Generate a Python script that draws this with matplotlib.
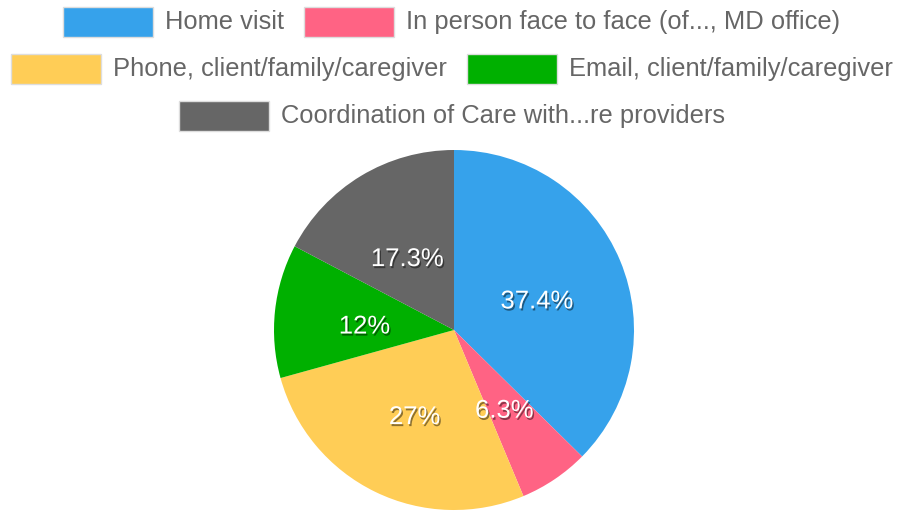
import matplotlib
matplotlib.use('Agg')
import matplotlib.pyplot as plt
import matplotlib.patheffects as pe
from matplotlib.patches import Rectangle
import numpy as np

labels = ["Home visit",
          "In person face to face (of..., MD office)",
          "Phone, client/family/caregiver",
          "Email, client/family/caregiver",
          "Coordination of Care with...re providers"]
values = [37.4, 6.3, 27, 12, 17.3]
pct_text = ["37.4%", "6.3%", "27%", "12%", "17.3%"]
colors = ["#36a2eb", "#ff6384", "#ffcd56", "#00b000", "#666666"]
legend_rows = [[0, 1], [2, 3], [4]]

W, H = 898, 513
plt.rcParams['font.family'] = ['Liberation Sans', 'DejaVu Sans']
fig = plt.figure(figsize=(W / 100, H / 100), dpi=100)

# pie axes: centre (454, 330) px, radius 180 px
cx, cy, r = 454, 330, 180
ax = fig.add_axes([(cx - r) / W, (H - cy - r) / H, 2 * r / W, 2 * r / H])
wedges, _ = ax.pie(values, colors=colors, startangle=90, counterclock=False,
                   radius=1, wedgeprops=dict(linewidth=0))
ax.set_xlim(-1, 1)
ax.set_ylim(-1, 1)
ax.axis('off')

total = sum(values)
start = 90.0
for v, t in zip(values, pct_text):
    mid = np.deg2rad(start - v / total * 180)
    start -= v / total * 360
    ax.text(0.5 * np.cos(mid), 0.5 * np.sin(mid) - 0.02, t, ha='center',
            va='center_baseline', color='white', fontsize=18.5,
            path_effects=[pe.withSimplePatchShadow(offset=(1, -1.5),
                                                   shadow_rgbFace='black',
                                                   alpha=0.45)])

# legend drawn by hand, each row centred
fig.canvas.draw()
renderer = fig.canvas.get_renderer()
box_w, box_h, gap_txt, gap_item = 90, 30, 12, 20
row_y = [22, 69, 116]
for row, yc in zip(legend_rows, row_y):
    texts = []
    for i in row:
        t = fig.text(0, 0, labels[i], fontsize=18.4, color='#666666',
                     va='center', ha='left')
        texts.append(t)
    widths = [t.get_window_extent(renderer).width for t in texts]
    total_w = sum(box_w + gap_txt + w for w in widths) + gap_item * (len(row) - 1)
    x = 452 - total_w / 2
    for i, t, w in zip(row, texts, widths):
        fig.patches.append(Rectangle((x / W, (H - yc - box_h / 2) / H),
                                     box_w / W, box_h / H,
                                     transform=fig.transFigure,
                                     facecolor=colors[i], edgecolor='#dddddd',
                                     linewidth=1))
        t.set_position(((x + box_w + gap_txt) / W, (H - yc) / H))
        x += box_w + gap_txt + w + gap_item

fig.savefig("out.png", dpi=100)
